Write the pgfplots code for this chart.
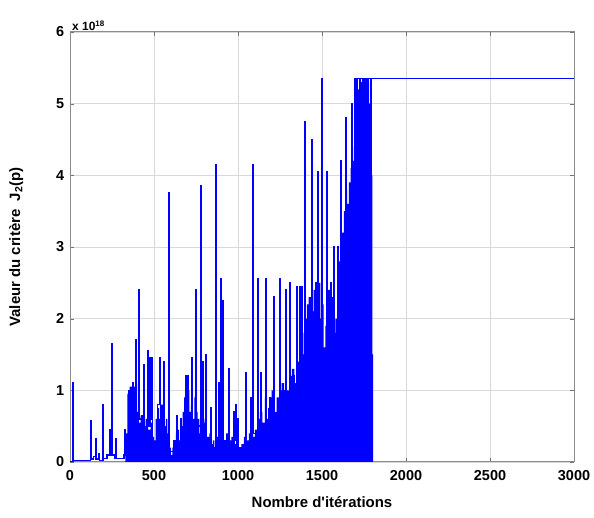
\documentclass[border=0pt]{standalone}
\usepackage{pgfplots}
\pgfplotsset{compat=1.18}
\usepackage{fontspec}
\setmainfont{Liberation Sans}
\begin{document}
\fontsize{14}{16}\selectfont\bfseries
\begin{tikzpicture}[x=1bp,y=1bp]
\useasboundingbox (0,0) rectangle (594,518);
\begin{axis}[
  at={(70bp,56bp)}, anchor=south west,
  scale only axis, width=504bp, height=430bp,
  xmin=0, xmax=3000, ymin=0, ymax=6,
  xtick={0,500,1000,1500,2000,2500,3000},
  ytick={0,1,2,3,4,5,6},
  /pgf/number format/assume math mode=true,
  /pgf/number format/set thousands separator={},
  tick label style={font=\fontsize{14.5}{16}\selectfont\bfseries},
  label style={font=\fontsize{15}{17}\selectfont\bfseries},
  xticklabel style={yshift=-4bp},
  yticklabel style={xshift=-1bp},
  xlabel={Nombre d\textquotesingle itérations},
  ylabel={Valeur du critère\ \ J\textsubscript{2}(p)},
  xlabel style={at={(axis description cs:0.5,0)}, anchor=north, yshift=-30bp},
  ylabel style={at={(axis description cs:0,0.5)}, anchor=south, yshift=42bp},
  grid=major,
  major grid style={gray!30, line width=0.7pt},
  tick align=inside,
  major tick length=4bp,
  tick style={black!55},
  axis line style={black!45, line width=1pt},
  clip=true,
]
\addplot[fill=blue, draw=none, const plot] coordinates {
(320,0) (330,0.4) (342,0.95) (355,1.05) (368,0.9) (380,1.05) (395,1.1) (400,0.7) (410,0.55) (420,0.65) (435,0.5) (450,0.6) (465,0.45) (480,0.55) (490,0.35) (500,0.3)
(510,0.6) (520,0.75) (530,0.6) (540,0.8) (555,0.5) (570,0.6) (580,0.4) (590,0.2) (600,0.1) (610,0.2) (620,0.3) (630,0.4) (640,0.45) (650,0.3) (660,0.5) (670,0.7) (680,0.9) (690,0.7) (700,1.0)
(710,0.7) (720,0.8) (730,0.6) (740,0.9) (750,0.7) (760,0.6) (770,0.4) (780,0.5) (790,0.6) (800,0.55) (815,0.35) (830,0.4) (840,0.25) (850,0.3) (860,0.2) (870,0.35) (885,0.45) (900,0.6) (915,0.3) (930,0.4)
(945,0.3) (960,0.35) (975,0.25) (990,0.4) (1005,0.2) (1020,0.25) (1035,0.35) (1050,0.3) (1065,0.4) (1080,0.5) (1090,0.35) (1100,0.45) (1115,0.6) (1130,0.7) (1145,0.55) (1160,0.9) (1170,0.6) (1180,0.75) (1190,0.9) (1200,1.0)
(1215,0.7) (1230,0.9) (1245,1.0) (1260,1.1) (1275,0.8) (1290,1.0) (1305,1.2) (1320,1.3) (1335,1.1) (1350,1.4) (1365,1.3) (1380,1.5) (1390,1.8) (1400,2.0) (1410,2.2) (1420,2.3) (1435,2.1) (1450,2.4) (1465,2.2) (1480,2.5)
(1490,2.0) (1500,2.2) (1510,1.6) (1520,1.9) (1535,2.4) (1550,2.3) (1565,1.8) (1580,2.0) (1590,2.5) (1600,2.8) (1610,3.0) (1620,3.2) (1630,3.5) (1640,3.8) (1650,3.6) (1660,3.9) (1670,4.1) (1680,4.2) (1690,4.4) (1700,4.5)
(1710,5.2) (1720,5.0) (1730,5.3) (1740,4.9) (1750,5.3) (1760,5.1) (1770,5.3) (1780,5.0) (1795,4.0) (1800,1.5) (1805,0)
} \closedcycle;
\addplot[blue, line width=1.5pt, const plot] coordinates {
(0,0) (18,1.1) (21,0.02) (122,0.57) (125,0.04) (140,0.08) (153,0.33) (156,0.04) (172,0.12) (175,0.02)
(197,0.8) (200,0.05) (220,0.1) (238,0.45) (247,1.65) (250,0.1) (265,0.05) (273,0.32) (276,0.05) (300,0.05)
(320,0.1) (328,0.45) (331,0.2) (352,1.0) (355,0.3) (372,1.1) (375,0.4) (390,1.7) (393,0.5) (407,2.4)
(410,0.6) (430,0.65) (437,1.35) (440,0.4) (462,1.55) (465,0.5) (477,1.45) (480,0.6) (487,1.45) (490,0.2)
(520,0.8) (537,1.45) (540,0.5) (557,1.4) (560,0.3) (587,3.75) (590,0.15) (620,0.3) (637,0.65) (640,0.2)
(657,0.6) (660,0.3) (687,1.2) (690,0.4) (702,1.2) (705,0.3) (723,1.45) (726,0.5) (747,2.4) (750,0.5)
(777,3.85) (780,0.3) (792,1.4) (795,0.5) (807,1.5) (810,0.3) (837,0.75) (840,0.2) (867,4.15) (870,0.3)
(885,1.1) (888,0.4) (897,2.55) (900,0.6) (907,2.25) (910,0.3) (947,1.3) (950,0.2) (975,0.7) (978,0.3)
(987,0.8) (990,0.2) (1000,0.6) (1003,0.2) (1047,1.25) (1050,0.2) (1075,0.9) (1078,0.3) (1087,4.15) (1090,0.4)
(1117,2.55) (1120,0.5) (1137,1.25) (1140,0.3) (1167,2.55) (1170,0.4) (1190,0.9) (1193,0.4) (1212,2.3) (1215,0.3)
(1247,2.55) (1250,0.5) (1270,1.0) (1273,0.5) (1287,2.4) (1290,0.6) (1307,2.5) (1310,0.3) (1330,1.2) (1333,0.6)
(1347,2.45) (1350,0.7) (1367,2.45) (1370,1.0) (1382,2.45) (1385,0.5) (1397,4.75) (1400,1.2) (1425,1.0) (1437,4.5)
(1440,1.0) (1460,2.5) (1463,1.0) (1472,4.05) (1475,0.5) (1497,5.35) (1500,1.2) (1527,4.05) (1530,0.8) (1552,2.5)
(1555,0.3) (1572,3.0) (1575,0.5) (1592,3.0) (1595,0.2) (1612,4.2) (1615,0.3) (1640,4.8) (1643,0.5) (1657,3.3)
(1660,0.3) (1677,5.0) (1680,0.2) (1697,5.35) (1705,0.05) (1707,5.35) (1722,0.1) (1727,5.35) (1745,0.5) (1750,5.35)
(1760,0.3) (1765,5.35) (1775,1.0) (1778,5.35) (1790,1.2) (1795,5.35) (3000,5.35)
};
\end{axis}
\node[anchor=south west, inner sep=0bp, font=\fontsize{12}{14}\selectfont\bfseries] at (72bp,487bp) {x 10\textsuperscript{18}};
\end{tikzpicture}
\end{document}
